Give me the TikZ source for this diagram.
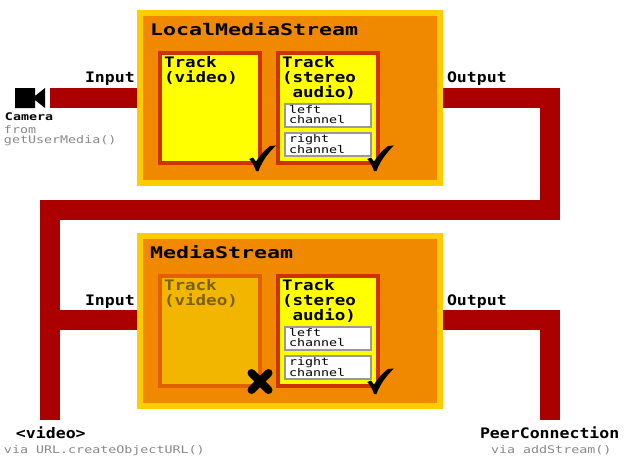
\documentclass[tikz,border=0pt]{standalone}
\usepackage{fontspec}
\newfontfamily\pixA[FakeStretch=1.35]{DejaVu Sans Mono}
\newfontfamily\pixB[FakeStretch=1.21]{DejaVu Sans Mono}
\newfontfamily\pixD[FakeStretch=1.14]{DejaVu Sans Mono}
\newfontfamily\pixC[FakeStretch=1.27]{DejaVu Sans Mono}
\definecolor{gold}{HTML}{FFCC00}
\definecolor{orng}{HTML}{F08800}
\definecolor{pipered}{HTML}{AA0000}
\definecolor{trackedge}{HTML}{CC3300}
\definecolor{trackfill}{HTML}{FFFF00}
\definecolor{fadeedge}{HTML}{E06000}
\definecolor{fadefill}{HTML}{F2B600}
\definecolor{fadetext}{HTML}{7A6000}
\definecolor{chanedge}{HTML}{999999}
\definecolor{graytext}{HTML}{888888}
\tikzset{
  x=1pt,y=-1pt,
  lbl/.style={inner sep=0pt,outer sep=0pt,anchor=base west,align=left,text=black},
  title/.style={lbl,font=\pixA\bfseries\fontsize{16}{16}\selectfont},
  tracktext/.style={lbl,font=\pixB\bfseries\fontsize{14.5}{15}\selectfont},
  io/.style={lbl,font=\pixD\bfseries\fontsize{14.5}{15}\selectfont},
  small/.style={lbl,font=\pixC\fontsize{10.5}{10}\selectfont},
  smallb/.style={lbl,font=\pixC\bfseries\fontsize{10.5}{10}\selectfont},
  note/.style={small,text=graytext},
  streambox/.style={draw=gold,fill=orng,line width=6pt,minimum width=300pt,minimum height=170pt,inner sep=0pt,outer sep=3pt},
  trackbox/.style={draw=trackedge,fill=trackfill,line width=4pt,minimum width=100pt,minimum height=110pt,inner sep=0pt,outer sep=2pt},
  fadebox/.style={trackbox,draw=fadeedge,fill=fadefill},
  chanbox/.style={draw=chanedge,fill=white,line width=2pt,minimum width=86pt,minimum height=23pt,inner sep=0pt,outer sep=1pt},
  pipe/.style={draw=pipered,line width=20pt,line cap=butt,line join=miter},
  tick/.pic={\fill[black] (-12.7,-6) -- (-9,-7.5) -- (-6,-3.5) .. controls (-2,-10) and (3,-15) .. (8,-19) -- (14,-19.5)
      .. controls (7,-13) and (0,-4) .. (-3.5,6) -- (-6,6) .. controls (-7.5,1) and (-10,-3) .. (-12.7,-6) -- cycle;},
  cross/.pic={\draw[black,line width=8pt,line cap=round] (-10.5,-15) -- (6.5,2) (-10.5,2) -- (6.5,-15);}
}
\begin{document}
\begin{tikzpicture}
\useasboundingbox (0,0) rectangle (625,459);
\coordinate (pipeA) at (50,98);
\coordinate (bendA) at (550,98);
\coordinate (bendB) at (550,210);
\coordinate (bendC) at (50,210);
\coordinate (endVideo) at (50,420);
\coordinate (tapIn) at (50,320);
\coordinate (bendD) at (550,320);
\coordinate (endPeer) at (550,420);
\node[streambox] (local) at (290,98) {};
\node[streambox] (media) at (290,321) {};
\draw[pipe] (pipeA) -- (pipeA -| local.west);
\draw[pipe] (local.east |- bendA) -- (bendA) -- (bendB) -- (bendC) -- (endVideo);
\draw[pipe] (tapIn) -- (tapIn -| media.west);
\draw[pipe] (media.east |- bendD) -- (bendD) -- (endPeer);
\fill[black] (15,88) -- (35,88) -- (35,96) -- (45,88) -- (45,108) -- (35,100) -- (35,108) -- (15,108) -- cycle;
\node[title] (localT) at (150,35) {LocalMediaStream};
\node[trackbox] (t1) at (210,108) {};
\node[tracktext,anchor=north west] (t1T) at (164,56.5) {Track\\(video)};
\node[trackbox] (t2) at (328,108) {};
\node[tracktext,anchor=north west] (t2T) at (282,56.5) {Track\\(stereo\\\ audio)};
\node[chanbox] (c1) at (328,115.5) {};
\node[small,anchor=north west] (c1T) at (289,105.5) {left\\channel};
\node[chanbox] (c2) at (328,144.5) {};
\node[small,anchor=north west] (c2T) at (289,134.5) {right\\channel};
\pic at (t1.south east) {tick};
\pic at (t2.south east) {tick};
\node[title] (mediaT) at (150,258) {MediaStream};
\node[fadebox] (t3) at (210,331) {};
\node[tracktext,anchor=north west,text=fadetext] (t3T) at (164,279.5) {Track\\(video)};
\node[trackbox] (t4) at (328,331) {};
\node[tracktext,anchor=north west] (t4T) at (282,279.5) {Track\\(stereo\\\ audio)};
\node[chanbox] (c3) at (328,338.5) {};
\node[small,anchor=north west] (c3T) at (289,328.5) {left\\channel};
\node[chanbox] (c4) at (328,367.5) {};
\node[small,anchor=north west] (c4T) at (289,357.5) {right\\channel};
\pic at (t3.south east) {cross};
\pic at (t4.south east) {tick};
\node[io] (in1) at (85,82) {Input};
\node[io] (out1) at (447,82) {Output};
\node[io] (in2) at (85,305) {Input};
\node[io] (out2) at (447,305) {Output};
\node[smallb] (cam) at (5,120) {Camera};
\node[note,anchor=north west] (camN) at (4,125.5) {from\\getUserMedia()};
\node[io] (vid) at (16,438) {<video>};
\node[note] (vidN) at (4,453) {via URL.createObjectURL()};
\node[io] (peer) at (480,438) {PeerConnection};
\node[note] (peerN) at (491,453) {via addStream()};
\end{tikzpicture}
\end{document}
